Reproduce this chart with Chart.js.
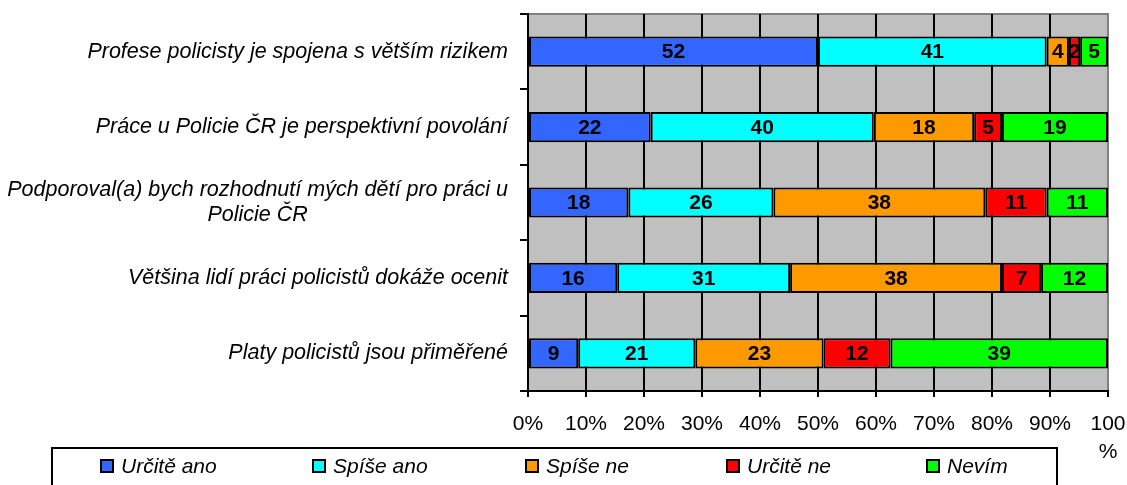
<!DOCTYPE html>
<html>
<head>
<meta charset="utf-8">
<script src="https://cdn.jsdelivr.net/npm/chart.js@4"></script>
<style>
  body { margin: 0; background: #fff; }
</style>
</head>
<body>
<canvas id="policeChart" width="1127" height="485"></canvas>
<script>
// categories (top to bottom)
const categories = [
    'Profese policisty je spojena s větším rizikem',
    'Práce u Policie ČR je perspektivní povolání',
    ['Podporoval(a) bych rozhodnutí mých dětí pro práci u', 'Policie ČR'],
    'Většina lidí práci policistů dokáže ocenit',
    'Platy policistů jsou přiměřené'
];
const seriesNames = ['Určitě ano', 'Spíše ano', 'Spíše ne', 'Určitě ne', 'Nevím'];
const urciteAno = [52, 22, 18, 16, 9];
const spiseAno = [41, 40, 26, 31, 21];
const spiseNe = [4, 18, 38, 38, 23];
const urciteNe = [2, 5, 11, 7, 12];
const nevim = [5, 19, 11, 12, 39];
const xTickValues = [0, 10, 20, 30, 40, 50, 60, 70, 80, 90, 100];

const seriesValues = [urciteAno, spiseAno, spiseNe, urciteNe, nevim];
const seriesColors = ['#3366FF', '#00FFFF', '#FF9900', '#FF0000', '#00FF00'];
const FONT = "'Liberation Sans', Arial, sans-serif";

// row totals, bars are drawn as 100% stacked
const totals = categories.map((c, i) => seriesValues.reduce((s, arr) => s + arr[i], 0));

const datasets = seriesValues.map((vals, k) => ({
    label: seriesNames[k],
    data: vals.map((v, i) => v / totals[i] * 100),
    raw: vals,
    backgroundColor: seriesColors[k],
    borderColor: '#000',
    borderWidth: 2,
    borderSkipped: false,
    barPercentage: 0.4,
    categoryPercentage: 1
}));

//-------------------------------------------------------------------------------------------------
// plot background + grey frame
const plotBackground = {
    id: 'plotBackground',
    beforeDraw(chart) {
        const { ctx, chartArea: a } = chart;
        ctx.save();
        ctx.fillStyle = '#C0C0C0';
        ctx.fillRect(a.left, a.top, a.right - a.left, a.bottom - a.top);
        ctx.strokeStyle = '#808080';
        ctx.lineWidth = 2;
        ctx.beginPath();
        ctx.moveTo(a.left, a.top);
        ctx.lineTo(a.right, a.top);
        ctx.lineTo(a.right, a.bottom);
        ctx.stroke();
        ctx.restore();
    }
};

// value labels inside the segments
const valueLabels = {
    id: 'valueLabels',
    afterDatasetsDraw(chart) {
        const ctx = chart.ctx;
        ctx.save();
        ctx.font = 'bold 21px ' + FONT;
        ctx.fillStyle = '#000';
        ctx.textAlign = 'center';
        ctx.textBaseline = 'middle';
        chart.data.datasets.forEach((ds, k) => {
            chart.getDatasetMeta(k).data.forEach((bar, i) => {
                ctx.fillText(ds.raw[i], (bar.x + bar.base) / 2, bar.y + 1);
            });
        });
        ctx.restore();
    }
};

// category labels: right aligned block, lines centred within it
const categoryLabels = {
    id: 'categoryLabels',
    afterDraw(chart) {
        const ctx = chart.ctx;
        const yScale = chart.scales.y;
        const right = yScale.right - 20;
        const lineH = 25;
        ctx.save();
        ctx.font = 'italic 21.5px ' + FONT;
        ctx.fillStyle = '#000';
        ctx.textBaseline = 'middle';
        ctx.textAlign = 'center';
        categories.forEach((label, i) => {
            const lines = Array.isArray(label) ? label : [label];
            const widest = Math.max(...lines.map(l => ctx.measureText(l).width));
            const cx = right - widest / 2;
            const y0 = yScale.getPixelForValue(i) - (lines.length - 1) * lineH / 2;
            lines.forEach((l, j) => ctx.fillText(l, cx, y0 + j * lineH));
        });
        ctx.restore();
    }
};

// boxed legend at the bottom
const boxLegend = {
    id: 'boxLegend',
    afterDraw(chart) {
        const ctx = chart.ctx;
        const itemX = [101, 313, 526, 727, 927];
        ctx.save();
        ctx.strokeStyle = '#000';
        ctx.lineWidth = 2;
        ctx.strokeRect(52, 448, 1005, 60);
        ctx.font = 'italic 21px ' + FONT;
        ctx.textBaseline = 'middle';
        ctx.textAlign = 'left';
        chart.data.datasets.forEach((ds, k) => {
            const x = itemX[k];
            ctx.fillStyle = ds.backgroundColor;
            ctx.fillRect(x, 460, 12, 12);
            ctx.strokeRect(x, 460, 12, 12);
            ctx.fillStyle = '#000';
            ctx.fillText(ds.label, x + 20, 467);
        });
        ctx.restore();
    }
};

new Chart('policeChart', {
    type: 'bar',
    data: {
        labels: categories,
        datasets: datasets
    },
    plugins: [plotBackground, valueLabels, categoryLabels, boxLegend],
    options: {
        responsive: false,
        animation: false,
        indexAxis: 'y',
        layout: { padding: { top: 14, right: 19, left: 0, bottom: 0 } },
        plugins: {
            legend: { display: false },
            tooltip: { enabled: false }
        },
        scales: {
            x: {
                stacked: true,
                min: 0,
                max: 100,
                afterBuildTicks: (scale) => {
                    scale.ticks = xTickValues.map(v => ({ value: v }));
                },
                afterFit: (scale) => {
                    scale.height = 94;
                    scale.paddingLeft = 0;
                    scale.paddingRight = 0;
                },
                ticks: {
                    color: '#000',
                    padding: 13,
                    maxRotation: 0,
                    autoSkip: false,
                    font: { family: FONT, size: 21, lineHeight: 1.35 },
                    callback: (v) => v === 100 ? ['100', '%'] : v + '%'
                },
                grid: {
                    color: (c) => (c.tick && c.tick.value === 100) ? '#808080' : '#000',
                    tickColor: '#000',
                    lineWidth: 2,
                    tickLength: 6
                },
                border: { color: '#000', width: 2 }
            },
            y: {
                stacked: true,
                afterFit: (scale) => { scale.width = 528; },
                ticks: { display: false },
                grid: {
                    offset: true,
                    drawOnChartArea: false,
                    color: '#000',
                    lineWidth: 2,
                    tickLength: 8
                },
                border: { color: '#000', width: 2 }
            }
        }
    }
});
</script>
</body>
</html>
